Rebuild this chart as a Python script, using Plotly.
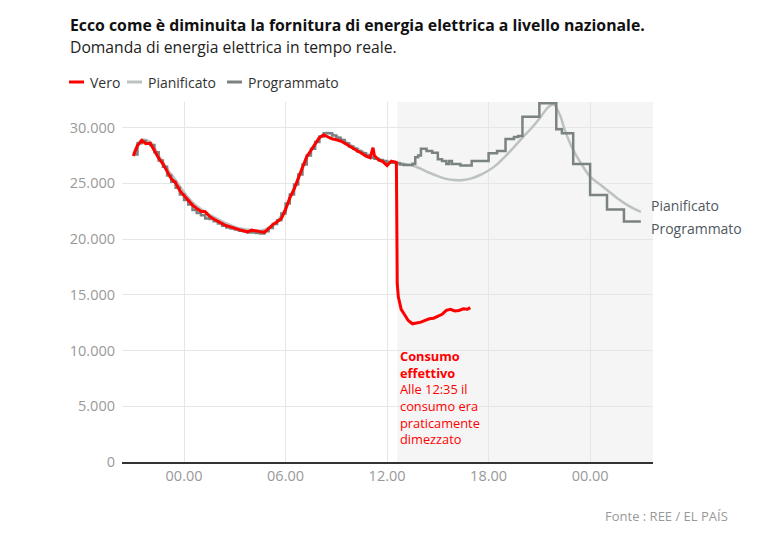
import pandas as pd
import plotly.graph_objects as go

# --- data (MW) ---
vero_t = ["21:00", "21:15", "21:30", "21:45", "22:00", "22:15", "22:30", "22:45",
          "23:00", "23:15", "23:30", "23:45", "00:00", "00:15", "00:30", "00:45",
          "01:00", "01:15", "01:30", "01:45", "02:00", "02:15", "02:30", "02:45",
          "03:00", "03:15", "03:30", "03:45", "04:00", "04:15", "04:30", "04:45",
          "05:00", "05:15", "05:30", "05:45", "06:00", "06:15", "06:30", "06:45",
          "07:00", "07:15", "07:30", "07:45", "08:00", "08:15", "08:30", "08:45",
          "09:00", "09:15", "09:30", "09:45", "10:00", "10:15", "10:30", "10:45",
          "11:00", "11:10", "11:15", "11:30", "11:45", "12:00", "12:15", "12:30",
          "12:33", "12:36", "12:40", "12:50", "13:00", "13:15", "13:30", "13:45",
          "14:00", "14:15", "14:30", "14:45", "15:00", "15:15", "15:30", "15:45",
          "16:00", "16:15", "16:30", "16:45", "16:55"]
vero = [27450, 28400, 28850, 28550, 28600, 27950, 27250, 26750,
        26100, 25400, 25050, 24350, 23900, 23500, 23050, 22750,
        22500, 22450, 22050, 21800, 21600, 21450, 21200, 21100,
        20950, 20850, 20750, 20650, 20800, 20750, 20650, 20600,
        20950, 21300, 21550, 21850, 22650, 23700, 24450, 25400,
        26500, 27400, 27950, 28550, 29100, 29350, 29150, 29000,
        28900, 28800, 28600, 28350, 28100, 27900, 27700, 27450,
        27300, 28200, 27500, 27100, 26950, 26600, 27000, 26900,
        26950, 16000, 14800, 13700, 13300, 12700, 12400, 12450,
        12550, 12700, 12850, 12900, 13100, 13250, 13600, 13700,
        13550, 13600, 13750, 13700, 13850]

pian_t = ["21:00", "21:30", "22:00", "22:30", "23:00", "23:30", "00:00", "00:30",
          "01:00", "01:30", "02:00", "02:30", "03:00", "03:30", "04:00", "04:30",
          "05:00", "05:30", "06:00", "06:30", "07:00", "07:30", "08:00", "08:30",
          "09:00", "09:30", "10:00", "10:30", "11:00", "11:30", "12:00", "12:30",
          "13:00", "13:30", "14:00", "14:30", "15:00", "15:30", "16:00", "16:30",
          "17:00", "17:30", "18:00", "18:30", "19:00", "19:30", "20:00", "20:30",
          "21:00", "21:30", "21:50", "22:00", "22:15", "22:30", "23:00", "23:30",
          "00:00", "00:30", "01:00", "01:30", "02:00", "02:30", "03:00"]
pianificato = [27700, 28900, 28700, 27500, 26300, 25300, 24200, 23300,
               22700, 22200, 21800, 21400, 21100, 20900, 20800, 20750,
               21000, 21600, 22800, 24600, 26500, 28000, 29100, 29550,
               29250, 28800, 28300, 27900, 27500, 27200, 26950, 26900,
               26750, 26600, 26300, 25950, 25650, 25400, 25300, 25300,
               25450, 25750, 26150, 26700, 27450, 28250, 29100, 29900,
               30800, 31800, 32100, 31800, 31000, 29800, 28000, 26700,
               25600, 25000, 24400, 23800, 23250, 22800, 22450]

prog_t = ["21:00", "21:15", "21:30", "21:45", "22:00", "22:15", "22:30", "22:45",
          "23:00", "23:15", "23:30", "23:45", "00:00", "00:15", "00:30", "00:45",
          "01:00", "01:15", "01:30", "01:45", "02:00", "02:15", "02:30", "02:45",
          "03:00", "03:15", "03:30", "03:45", "04:00", "04:15", "04:30", "04:45",
          "05:00", "05:15", "05:30", "05:45", "06:00", "06:15", "06:30", "06:45",
          "07:00", "07:15", "07:30", "07:45", "08:00", "08:15", "08:30", "08:45",
          "09:00", "09:15", "09:30", "09:45", "10:00", "10:15", "10:30", "10:45",
          "11:00", "11:15", "11:30", "11:45", "12:00", "12:15", "12:30", "12:45",
          "13:00", "13:30", "13:40", "13:50", "14:00", "14:20", "14:40", "15:00",
          "15:15", "15:30", "15:40", "15:50", "16:00", "16:20", "16:40", "17:00",
          "17:30", "18:00", "18:30", "19:00", "19:30", "19:45", "20:00", "21:00",
          "22:00", "22:20", "23:00", "00:00", "01:00", "02:00", "03:00"]
programmato = [27600, 28600, 28800, 28600, 28450, 27800, 27050, 26500,
               25700, 25150, 24600, 24000, 23500, 23100, 22600, 22350,
               22150, 21850, 21800, 21600, 21400, 21200, 21050, 20950,
               20850, 20750, 20700, 20600, 20600, 20550, 20500, 20700,
               21000, 21350, 21700, 22300, 23200, 24000, 24900, 25800,
               26700, 27500, 28100, 28700, 29200, 29500, 29500, 29300,
               29100, 28900, 28600, 28300, 28100, 27850, 27700, 27500,
               27300, 27200, 27100, 27000, 26900, 26850, 26800, 26700,
               26650, 26750, 27340, 27500, 28100, 27900, 27750, 27160,
               27000, 26740, 27000, 26740, 26740, 26600, 26600, 27000,
               27000, 27700, 27900, 28990, 29170, 29240, 30980, 32190,
               29850, 29490, 26740, 23950, 22650, 21580, 21580]

tick_vals = ["2025-04-28 00:00", "2025-04-28 06:00", "2025-04-28 12:00",
             "2025-04-28 18:00", "2025-04-29 00:00"]
tick_text = ["00.00", "06.00", "12.00", "18.00", "00.00"]


def to_dt(times, start="2025-04-27"):
    # times go forward; a smaller clock value means the next day
    day = pd.Timestamp(start)
    out = []
    prev = None
    for t in times:
        h, m = map(int, t.split(":"))
        mins = h * 60 + m
        if prev is not None and mins < prev:
            day += pd.Timedelta(days=1)
        prev = mins
        out.append(day + pd.Timedelta(minutes=mins))
    return out


# page body has an 8px margin, so the figure is drawn 8px smaller and shifted
OFF = 8
W, H = 779 - OFF, 535 - OFF
L, R, T, B = 122 - OFF, 126, 102 - OFF, 73
PW, PH = W - L - R, H - T - B


def px(x):
    return (x - OFF - L) / PW


def py(y):
    return (H - B - (y - OFF)) / PH


RED = "#ff0000"
LIGHT = "#bcc2c1"
DARK = "#7b8382"
FONT = "Open Sans"

fig = go.Figure()
fig.add_trace(go.Scatter(x=to_dt(pian_t), y=pianificato, mode="lines", name="Pianificato",
                         line=dict(color=LIGHT, width=2.5, shape="spline")))
fig.add_trace(go.Scatter(x=to_dt(prog_t), y=programmato, mode="lines", name="Programmato",
                         line=dict(color=DARK, width=2.5, shape="hv")))
fig.add_trace(go.Scatter(x=to_dt(vero_t), y=vero, mode="lines", name="Vero",
                         line=dict(color=RED, width=3)))

# grey area after the blackout
fig.add_shape(type="rect", xref="x", yref="y", x0="2025-04-28 12:36", x1="2025-04-29 03:43",
              y0=0, y1=32300, fillcolor="#f5f5f5", line_width=0, layer="below")

# legend drawn by hand (short line keys)
legend = [("Vero", RED, 69, 88), ("Pianificato", LIGHT, 127, 146), ("Programmato", DARK, 227, 246)]
for name, col, lx, tx in legend:
    fig.add_shape(type="line", xref="paper", yref="paper", x0=px(lx), x1=px(lx + 15),
                  y0=py(82), y1=py(82), line=dict(color=col, width=3))
    fig.add_annotation(text=name, xref="paper", yref="paper", x=px(tx), y=py(82),
                       xanchor="left", yanchor="middle", showarrow=False,
                       font=dict(family=FONT, size=14, color="#333"))

fig.add_annotation(text="<b>Ecco come è diminuita la fornitura di energia elettrica a livello nazionale.</b>",
                   xref="paper", yref="paper", x=px(68), y=py(25), xanchor="left", yanchor="middle",
                   showarrow=False, font=dict(family=FONT, size=15.8, color="#111"))
fig.add_annotation(text="Domanda di energia elettrica in tempo reale.",
                   xref="paper", yref="paper", x=px(68), y=py(47), xanchor="left", yanchor="middle",
                   showarrow=False, font=dict(family=FONT, size=15.7, color="#222"))

fig.add_annotation(text="<b>Consumo<br>effettivo</b><br>Alle 12:35 il<br>consumo era<br>praticamente<br>dimezzato",
                   xref="paper", yref="paper", x=px(398), y=py(345), xanchor="left", yanchor="top",
                   align="left", showarrow=False, font=dict(family=FONT, size=12.8, color=RED))

fig.add_annotation(text="Pianificato", x=to_dt(pian_t)[-1], y=pianificato[-1], xanchor="left",
                   yanchor="middle", xshift=8, yshift=6, showarrow=False,
                   font=dict(family=FONT, size=14, color="#505860"))
fig.add_annotation(text="Programmato", x=to_dt(prog_t)[-1], y=programmato[-1], xanchor="left",
                   yanchor="middle", xshift=8, yshift=-7, showarrow=False,
                   font=dict(family=FONT, size=14, color="#505860"))

fig.add_annotation(text="Fonte : REE / EL PAÍS", xref="paper", yref="paper", x=px(730), y=py(516),
                   xanchor="right", yanchor="middle", showarrow=False,
                   font=dict(family=FONT, size=13, color="#999"))

fig.update_layout(
    width=W, height=H, margin=dict(l=L, r=R, t=T, b=B),
    paper_bgcolor="white", plot_bgcolor="white", showlegend=False,
    separators=",.", font=dict(family=FONT, size=14, color="#999"),
)
fig.update_xaxes(type="date", range=["2025-04-27 20:20", "2025-04-29 03:43"],
                 tickvals=tick_vals, ticktext=tick_text, showgrid=True, gridcolor="#e6e6e6",
                 showline=True, linecolor="#333", linewidth=1.5, ticks="", zeroline=False,
                 tickfont=dict(family=FONT, size=14.5, color="#999"))
fig.update_yaxes(range=[0, 32300], dtick=5000, tickformat=",d", showgrid=True,
                 gridcolor="#e6e6e6", zeroline=False, ticks="", ticklabelstandoff=6,
                 tickfont=dict(family=FONT, size=14.5, color="#999"))

fig.write_html("out.html")
